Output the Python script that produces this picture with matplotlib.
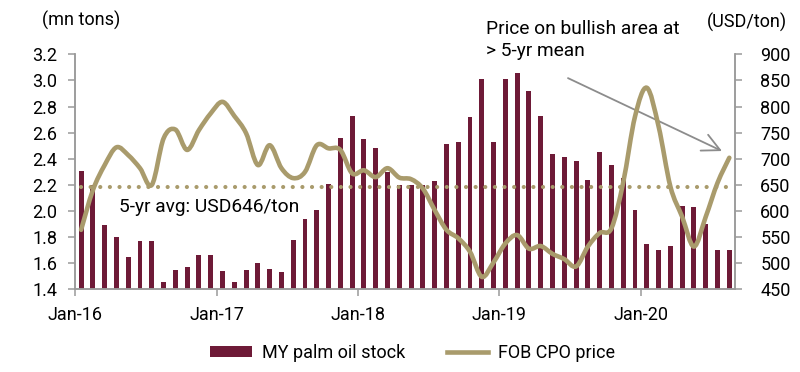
import matplotlib.pyplot as plt
import numpy as np
from matplotlib.lines import Line2D
from matplotlib.patches import Patch, PathPatch
from matplotlib.path import Path

plt.rcParams["font.family"] = ["Roboto", "DejaVu Sans"]

BAR_COLOR = "#6E1A37"
LINE_COLOR = "#A99B6C"
AXIS_COLOR = "#9A9A9A"

year_labels = ["Jan-16", "Jan-17", "Jan-18", "Jan-19", "Jan-20"]

# MY palm oil stock, mn tons, monthly Jan-16 .. Aug-20
stock = [
    2.31, 2.20, 1.89, 1.80, 1.65, 1.77, 1.77, 1.46, 1.55, 1.57, 1.66, 1.66,
    1.54, 1.46, 1.55, 1.60, 1.56, 1.53, 1.78, 1.94, 2.01, 2.21, 2.56, 2.73,
    2.55, 2.48, 2.30, 2.20, 2.20, 2.20, 2.23, 2.51, 2.53, 2.72, 3.01, 2.53,
    3.01, 3.06, 2.92, 2.73, 2.44, 2.41, 2.38, 2.24, 2.45, 2.35, 2.25, 2.01,
    1.75, 1.70, 1.73, 2.04, 2.03, 1.90, 1.70, 1.70,
]

# FOB CPO price, USD/ton, same months
price = [
    564, 640, 688, 722, 707, 682, 650, 739, 756, 717, 755, 787,
    809, 782, 749, 688, 726, 682, 663, 675, 726, 720, 717, 672,
    678, 665, 682, 664, 661, 643, 602, 564, 548, 522, 474, 502,
    538, 554, 528, 533, 518, 508, 494, 532, 558, 567, 655, 781,
    836, 762, 647, 589, 532, 589, 654, 702,
]

avg_price = 646

x = np.arange(len(stock)) + 0.5

fig = plt.figure(figsize=(8, 3.72), dpi=100)
ax = fig.add_axes([0.094, 0.222, 0.825, 0.632])
ax2 = ax.twinx()

ax.bar(x, stock, width=0.42, color=BAR_COLOR, zorder=2)
ax.set_ylim(1.4, 3.2)
ax.set_yticks(np.arange(1.4, 3.21, 0.2))
ax.set_yticklabels([f"{v:.1f}" for v in np.arange(1.4, 3.21, 0.2)])
ax.set_xlim(0, len(stock))
ax.set_xticks(np.arange(0, len(stock), 12))
ax.set_xticklabels(year_labels)

# smoothed price line (Excel-style smoothing between monthly points)
pts = np.column_stack([x, price]).astype(float)
verts = [pts[0]]
codes = [Path.MOVETO]
for i in range(len(pts) - 1):
    p0 = pts[i - 1] if i > 0 else pts[i]
    p1, p2 = pts[i], pts[i + 1]
    p3 = pts[i + 2] if i + 2 < len(pts) else pts[i + 1]
    verts += [p1 + (p2 - p0) / 6, p2 - (p3 - p1) / 6, p2]
    codes += [Path.CURVE4] * 3
ax2.add_patch(PathPatch(Path(verts, codes), fill=False, edgecolor=LINE_COLOR,
                        lw=3.3, capstyle="round", joinstyle="round", zorder=4))

ax2.plot([x[0], x[-1]], [avg_price, avg_price], color=LINE_COLOR, lw=3.0,
         dashes=(0.01, 2.3), dash_capstyle="round", zorder=3)
ax2.set_ylim(450, 900)
ax2.set_yticks(np.arange(450, 901, 50))

ax.set_zorder(ax2.get_zorder() - 1)
ax.patch.set_visible(False)

for a in (ax, ax2):
    a.spines["top"].set_visible(False)
    for s in ("left", "right", "bottom"):
        a.spines[s].set_color(AXIS_COLOR)
        a.spines[s].set_linewidth(1.1)
    a.tick_params(colors=AXIS_COLOR, labelcolor="black", labelsize=13,
                  length=5, width=1.1)
ax.tick_params(axis="y", pad=8)
ax.tick_params(axis="x", pad=7)
ax2.tick_params(axis="y", pad=13)

fig.text(0.101, 0.946, "(mn tons)", ha="center", va="center", fontsize=13)
fig.text(0.934, 0.941, "(USD/ton)", ha="center", va="center", fontsize=13)

ax.text(3.75, 2.03, "5-yr avg: USD646/ton", ha="left", va="center", fontsize=13.8)

fig.text(0.608, 0.893, "Price on bullish area at\n> 5-yr mean", ha="left", va="center",
         fontsize=13.8, linespacing=1.25)
ax.annotate("", xy=(0.9025, 0.594), xycoords="figure fraction",
            xytext=(0.71, 0.790), textcoords="figure fraction",
            arrowprops=dict(arrowstyle="->,head_length=0.9,head_width=0.45",
                            color="#8C8C8C", lw=1.3, mutation_scale=14,
                            shrinkA=0, shrinkB=0))

handles = [Patch(facecolor=BAR_COLOR), Line2D([0], [0], color=LINE_COLOR, lw=3.3)]
fig.legend(handles, ["MY palm oil stock", "FOB CPO price"], loc="center",
           bbox_to_anchor=(0.516, 0.052), ncol=2, frameon=False, fontsize=13,
           handlelength=2.3, handleheight=0.55, handletextpad=0.55, columnspacing=2.3)

fig.savefig("out.png", dpi=100)
